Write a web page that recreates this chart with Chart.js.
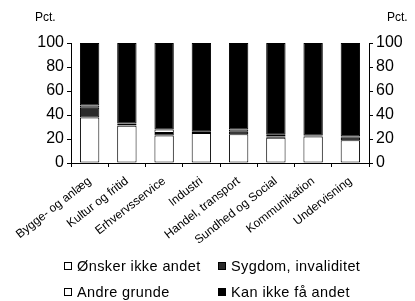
<!DOCTYPE html>
<html>
<head>
<meta charset="utf-8">
<script src="https://cdn.jsdelivr.net/npm/chart.js@4/dist/chart.umd.min.js"></script>
<style>
  html, body { margin: 0; padding: 0; background: #fff; }
  #wrap { position: relative; width: 415px; height: 301px; }
  #legend { position: absolute; left: 0; top: 0; width: 415px; height: 301px; pointer-events: none;
            font-family: "Liberation Sans", Arial, sans-serif; font-size: 14.5px; color: #000; }
  .li { position: absolute; height: 16px; line-height: 16px; white-space: nowrap; letter-spacing: 0.4px; }
  .li span.box { display: inline-block; width: 8px; height: 8px; border: 1px solid #000; vertical-align: middle;
                 margin-right: 5px; position: relative; top: -1px; box-sizing: border-box; }
</style>
</head>
<body>
<div id="wrap">
  <canvas id="c" width="415" height="301"></canvas>
  <div id="legend"></div>
</div>
<script>
const categories = ["Bygge- og anlæg", "Kultur og fritid", "Erhvervsservice", "Industri",
                    "Handel, transport", "Sundhed og Social", "Kommunikation", "Undervisning"];
const seriesNames = ["Ønsker ikke andet", "Sygdom, invaliditet", "Andre grunde", "Kan ikke få andet"];
const onskerIkkeAndet = [38, 31, 23, 25, 24, 21, 22, 19];
const sygdomInvaliditet = [8, 0.5, 2, 0, 2, 1, 0, 2];
const andreGrunde = [2, 1.5, 3, 1, 2, 1.5, 1, 1];
const kanIkkeFaaAndet = [52, 67, 72, 74, 72, 76.5, 77, 78];
const yTicks = [0, 20, 40, 60, 80, 100];
const axisUnit = "Pct.";

const fontFam = "'Liberation Sans', Arial, sans-serif";
const colors = ["#ffffff", "#2a2a2a", "#ffffff", "#000000"];

const pctPlugin = {
  id: 'pct',
  afterDraw(chart) {
    const ctx = chart.ctx;
    ctx.save();
    ctx.font = "12px " + fontFam;
    ctx.fillStyle = "#000";
    ctx.textBaseline = "middle";
    ctx.textAlign = "left";
    ctx.fillText(axisUnit, 35, 18);
    ctx.fillText(axisUnit, 387, 18);
    ctx.restore();
  }
};

const seriesData = [onskerIkkeAndet, sygdomInvaliditet, andreGrunde, kanIkkeFaaAndet];
const datasets = seriesNames.map((n, i) => ({
  label: n,
  data: seriesData[i],
  backgroundColor: colors[i],
  borderColor: "#000",
  borderWidth: 1,
  borderSkipped: false,
  barPercentage: 0.52,
  categoryPercentage: 1.0,
  yAxisID: 'y'
}));

const tickCommon = { color: "#000", font: { family: fontFam, size: 16 }, padding: 3 };

const chart = new Chart(document.getElementById('c'), {
  type: 'bar',
  data: { labels: categories, datasets },
  plugins: [pctPlugin],
  options: {
    responsive: false,
    animation: false,
    layout: { padding: { top: 43, bottom: 40, left: 0, right: 0 } },
    plugins: { legend: { display: false }, tooltip: { enabled: false }, title: { display: false } },
    scales: {
      x: {
        stacked: true,
        offset: true,
        grid: { display: true, drawOnChartArea: false, drawTicks: true, tickLength: 4, color: "#000", offset: true },
        border: { display: true, color: "#000", width: 1, dash: [4, 2] },
        ticks: { color: "#000", font: { family: fontFam, size: 12 }, minRotation: 38, maxRotation: 38, autoSkip: false, padding: 7 },
        afterFit(s) { s.height = 98; }
      },
      y: {
        stacked: true,
        position: 'left',
        min: 0, max: 100,
        afterBuildTicks(s) { s.ticks = yTicks.map(v => ({ value: v })); },
        grid: { display: true, drawOnChartArea: false, drawTicks: true, tickLength: 4, color: "#000" },
        border: { display: true, color: "#000", width: 1 },
        ticks: tickCommon,
        afterFit(s) { s.width = 71; }
      },
      y2: {
        position: 'right',
        min: 0, max: 100,
        afterBuildTicks(s) { s.ticks = yTicks.map(v => ({ value: v })); },
        grid: { display: true, drawOnChartArea: false, drawTicks: true, tickLength: 4, color: "#000" },
        border: { display: true, color: "#000", width: 1 },
        ticks: tickCommon,
        afterFit(s) { s.width = 46; }
      }
    }
  }
});

// HTML legend built from the chart's own legend items, laid out in two columns
const items = chart.options.plugins.legend.labels.generateLabels(chart);
const legendPos = [[64, 258], [218, 258], [64, 284], [218, 284]];
const legend = document.getElementById('legend');
items.forEach((it, k) => {
  const d = document.createElement('div');
  d.className = 'li';
  d.style.left = legendPos[k][0] + 'px';
  d.style.top = legendPos[k][1] + 'px';
  const b = document.createElement('span');
  b.className = 'box';
  b.style.background = it.fillStyle;
  d.appendChild(b);
  d.appendChild(document.createTextNode(it.text));
  legend.appendChild(d);
});
</script>
</body>
</html>
